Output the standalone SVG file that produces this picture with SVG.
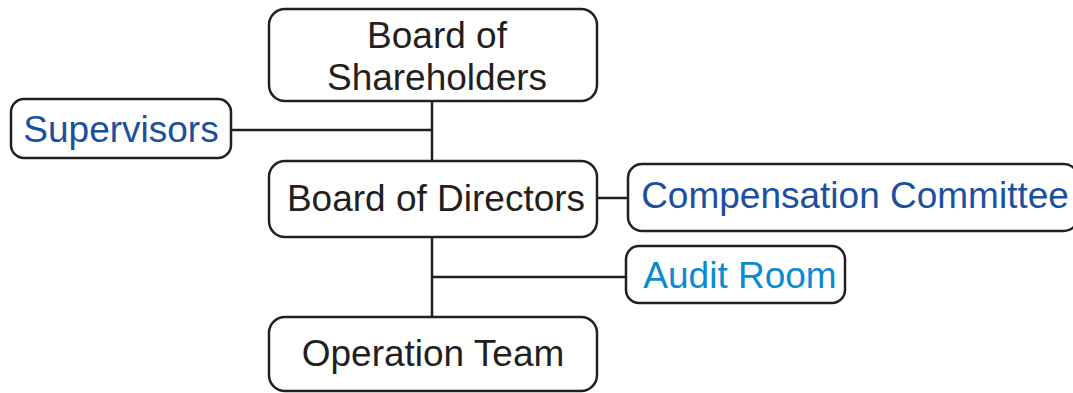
<svg xmlns="http://www.w3.org/2000/svg" width="1073" height="393" viewBox="0 0 1073 393">
<style>
.box{fill:#fff;stroke:#231f20;stroke-width:2.5}
.t{font-family:"Liberation Sans",Arial,sans-serif;font-size:37px;text-anchor:middle;fill:#231f20}
.b{fill:#1b50a0}
.c{fill:#0a8ad2}
.ln{stroke:#231f20;stroke-width:2.5;fill:none}
</style>
<g id="connectors">
<line class="ln" x1="432" y1="101" x2="432" y2="161"/>
<line class="ln" x1="231" y1="130" x2="432" y2="130"/>
<line class="ln" x1="597" y1="198" x2="628" y2="198"/>
<line class="ln" x1="432" y1="237" x2="432" y2="317"/>
<line class="ln" x1="432" y1="277" x2="626" y2="277"/>
</g>
<g id="shareholders">
<rect class="box" x="269" y="9" width="328" height="92" rx="16"/>
<text class="t" x="437" y="48">Board of</text>
<text class="t" x="437" y="90">Shareholders</text>
</g>
<g id="supervisors">
<rect class="box" x="11" y="99" width="220" height="59" rx="13"/>
<text class="t b" x="121" y="142">Supervisors</text>
</g>
<g id="directors">
<rect class="box" x="269" y="161" width="328" height="76" rx="16"/>
<text class="t" x="436" y="211">Board of Directors</text>
</g>
<g id="compensation">
<rect class="box" x="628" y="164" width="450" height="67" rx="14"/>
<text class="t b" x="855" y="208">Compensation Committee</text>
</g>
<g id="audit">
<rect class="box" x="626" y="246" width="219" height="57" rx="13"/>
<text class="t c" x="740" y="288">Audit Room</text>
</g>
<g id="operation">
<rect class="box" x="269" y="317" width="328" height="74" rx="16"/>
<text class="t" x="433" y="366">Operation Team</text>
</g>
</svg>
